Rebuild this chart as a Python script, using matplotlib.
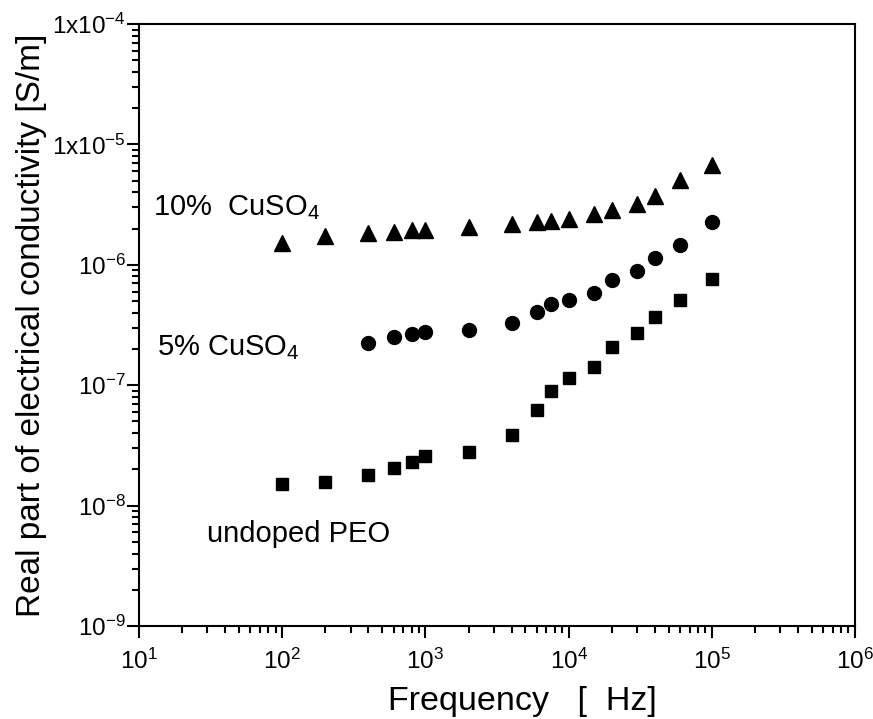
"""Real part of electrical conductivity vs frequency for PEO films."""

import matplotlib
matplotlib.use("Agg")
import matplotlib.pyplot as plt
from matplotlib.ticker import FixedLocator, FixedFormatter, LogLocator, NullFormatter

plt.rcParams["font.family"] = ["Liberation Sans", "DejaVu Sans"]
plt.rcParams["mathtext.fontset"] = "custom"
plt.rcParams["mathtext.rm"] = "Liberation Sans"
plt.rcParams["mathtext.it"] = "Liberation Sans"
plt.rcParams["mathtext.bf"] = "Liberation Sans"

# data
freq_10 = [100, 200, 400, 600, 800, 1000, 2000, 4000, 6000, 7500,
           10000, 15000, 20000, 30000, 40000, 60000, 100000]
sigma_10 = [1.52e-6, 1.74e-6, 1.83e-6, 1.89e-6, 1.93e-6, 1.95e-6, 2.06e-6, 2.18e-6, 2.26e-6, 2.32e-6,
            2.41e-6, 2.64e-6, 2.86e-6, 3.23e-6, 3.76e-6, 5.04e-6, 6.76e-6]

freq_5 = [400, 600, 800, 1000, 2000, 4000, 6000, 7500,
          10000, 15000, 20000, 30000, 40000, 60000, 100000]
sigma_5 = [2.26e-7, 2.51e-7, 2.68e-7, 2.76e-7, 2.87e-7, 3.30e-7, 4.02e-7, 4.69e-7,
           5.13e-7, 5.89e-7, 7.41e-7, 8.91e-7, 1.13e-6, 1.47e-6, 2.28e-6]

freq_peo = [100, 200, 400, 600, 800, 1000, 2000, 4000, 6000, 7500,
            10000, 15000, 20000, 30000, 40000, 60000, 100000]
sigma_peo = [1.51e-8, 1.57e-8, 1.80e-8, 2.06e-8, 2.31e-8, 2.57e-8, 2.77e-8, 3.88e-8, 6.26e-8, 8.89e-8,
             1.15e-7, 1.41e-7, 2.07e-7, 2.71e-7, 3.72e-7, 5.06e-7, 7.66e-7]

x_ticks = [1e1, 1e2, 1e3, 1e4, 1e5, 1e6]
x_tick_labels = ["$10^{1}$", "$10^{2}$", "$10^{3}$", "$10^{4}$", "$10^{5}$", "$10^{6}$"]
y_ticks = [1e-9, 1e-8, 1e-7, 1e-6, 1e-5, 1e-4]
y_tick_labels = ["$10^{-9}$", "$10^{-8}$", "$10^{-7}$", "$10^{-6}$", "1x$10^{-5}$", "1x$10^{-4}$"]

fig = plt.figure(figsize=(8.73, 7.19), dpi=100)
ax = fig.add_axes([0.1592, 0.1293, 0.8202, 0.8373])

ax.plot(freq_10, sigma_10, "^", color="black", markersize=11, linestyle="none")
ax.plot(freq_5, sigma_5, "o", color="black", markersize=10, linestyle="none")
ax.plot(freq_peo, sigma_peo, "s", color="black", markersize=8.5, linestyle="none")

ax.set_xscale("log")
ax.set_yscale("log")
ax.set_xlim(1e1, 1e6)
ax.set_ylim(1e-9, 1e-4)

ax.xaxis.set_major_locator(FixedLocator(x_ticks))
ax.xaxis.set_major_formatter(FixedFormatter(x_tick_labels))
ax.yaxis.set_major_locator(FixedLocator(y_ticks))
ax.yaxis.set_major_formatter(FixedFormatter(y_tick_labels))
ax.xaxis.set_minor_locator(LogLocator(base=10, subs=range(2, 10), numticks=20))
ax.yaxis.set_minor_locator(LogLocator(base=10, subs=range(2, 10), numticks=20))
ax.xaxis.set_minor_formatter(NullFormatter())
ax.yaxis.set_minor_formatter(NullFormatter())

ax.tick_params(which="both", direction="out", top=False, right=False, width=1.5, labelsize=17.5)
ax.tick_params(which="major", length=8.5)
ax.tick_params(which="minor", length=5)
ax.tick_params(axis="x", which="major", pad=8)
ax.tick_params(axis="y", which="major", pad=1)
for spine in ax.spines.values():
    spine.set_linewidth(1.5)

ax.set_xlabel("Frequency   [  Hz]", fontsize=24.5)
ax.xaxis.set_label_coords(0.535, -0.10)
ax.set_ylabel("Real part of electrical conductivity [S/m]", fontsize=24, labelpad=4)

ax.text(0.020, 0.683, "10%  CuSO$_4$", transform=ax.transAxes, fontsize=21, va="baseline")
ax.text(0.025, 0.450, "5% CuSO$_4$", transform=ax.transAxes, fontsize=21, va="baseline")
ax.text(0.095, 0.140, "undoped PEO", transform=ax.transAxes, fontsize=21, va="baseline")

fig.savefig("out.png", dpi=100)
